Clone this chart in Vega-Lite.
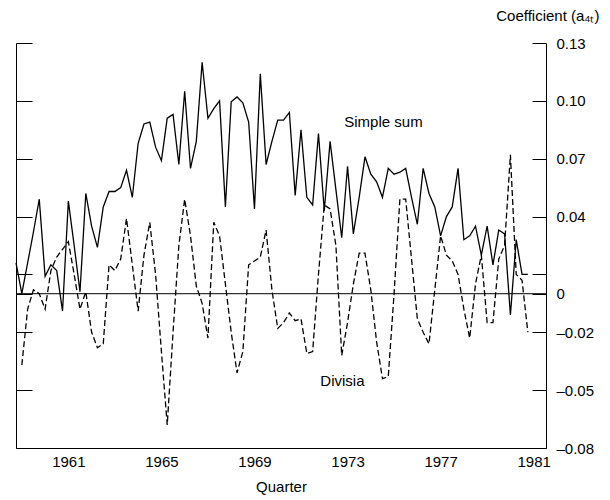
{
  "$schema": "https://vega.github.io/schema/vega-lite/v6.json",
  "width": 530,
  "height": 405,
  "autosize": "none",
  "padding": {"left": 16, "top": 43, "right": 64, "bottom": 52},
  "config": {
    "view": {"stroke": null},
    "font": "Liberation Sans",
    "axis": {"labelFont": "Liberation Sans", "titleFont": "Liberation Sans", "labelColor": "#000", "titleColor": "#000", "domainColor": "#000", "tickColor": "#000", "grid": false, "labelFontSize": 15, "titleFontSize": 15, "titleFontWeight": "normal"}
  },
  "datasets": {
    "series": [
      {"t":1958.75,"simple":0.016,"divisia":null},
      {"t":1959.0,"simple":0.000,"divisia":-0.037},
      {"t":1959.25,"simple":0.016,"divisia":-0.008},
      {"t":1959.5,"simple":0.032,"divisia":0.002},
      {"t":1959.75,"simple":0.049,"divisia":0.000},
      {"t":1960.0,"simple":0.009,"divisia":-0.008},
      {"t":1960.25,"simple":0.015,"divisia":0.012},
      {"t":1960.5,"simple":0.012,"divisia":0.019},
      {"t":1960.75,"simple":-0.009,"divisia":0.023},
      {"t":1961.0,"simple":0.048,"divisia":0.027},
      {"t":1961.25,"simple":0.025,"divisia":0.010},
      {"t":1961.5,"simple":0.001,"divisia":-0.008},
      {"t":1961.75,"simple":0.052,"divisia":0.001},
      {"t":1962.0,"simple":0.035,"divisia":-0.020},
      {"t":1962.25,"simple":0.024,"divisia":-0.028},
      {"t":1962.5,"simple":0.045,"divisia":-0.026},
      {"t":1962.75,"simple":0.053,"divisia":0.015},
      {"t":1963.0,"simple":0.053,"divisia":0.012},
      {"t":1963.25,"simple":0.055,"divisia":0.018},
      {"t":1963.5,"simple":0.064,"divisia":0.039},
      {"t":1963.75,"simple":0.050,"divisia":0.015},
      {"t":1964.0,"simple":0.078,"divisia":-0.009},
      {"t":1964.25,"simple":0.088,"divisia":0.020},
      {"t":1964.5,"simple":0.089,"divisia":0.037},
      {"t":1964.75,"simple":0.076,"divisia":0.010},
      {"t":1965.0,"simple":0.069,"divisia":-0.030},
      {"t":1965.25,"simple":0.091,"divisia":-0.068},
      {"t":1965.5,"simple":0.093,"divisia":-0.020},
      {"t":1965.75,"simple":0.067,"divisia":0.025},
      {"t":1966.0,"simple":0.105,"divisia":0.049},
      {"t":1966.25,"simple":0.065,"divisia":0.030},
      {"t":1966.5,"simple":0.079,"divisia":0.004},
      {"t":1966.75,"simple":0.120,"divisia":-0.005},
      {"t":1967.0,"simple":0.091,"divisia":-0.023},
      {"t":1967.25,"simple":0.096,"divisia":0.037},
      {"t":1967.5,"simple":0.100,"divisia":0.030},
      {"t":1967.75,"simple":0.045,"divisia":0.005},
      {"t":1968.0,"simple":0.0995,"divisia":-0.020},
      {"t":1968.25,"simple":0.102,"divisia":-0.041},
      {"t":1968.5,"simple":0.099,"divisia":-0.030},
      {"t":1968.75,"simple":0.089,"divisia":0.015},
      {"t":1969.0,"simple":0.044,"divisia":0.017},
      {"t":1969.25,"simple":0.114,"divisia":0.019},
      {"t":1969.5,"simple":0.067,"divisia":0.033},
      {"t":1969.75,"simple":0.079,"divisia":0.002},
      {"t":1970.0,"simple":0.090,"divisia":-0.018},
      {"t":1970.25,"simple":0.090,"divisia":-0.015},
      {"t":1970.5,"simple":0.094,"divisia":-0.010},
      {"t":1970.75,"simple":0.051,"divisia":-0.014},
      {"t":1971.0,"simple":0.085,"divisia":-0.013},
      {"t":1971.25,"simple":0.050,"divisia":-0.031},
      {"t":1971.5,"simple":0.046,"divisia":-0.030},
      {"t":1971.75,"simple":0.083,"divisia":0.010},
      {"t":1972.0,"simple":0.043,"divisia":0.046},
      {"t":1972.25,"simple":0.079,"divisia":0.044},
      {"t":1972.5,"simple":0.054,"divisia":0.025},
      {"t":1972.75,"simple":0.029,"divisia":-0.032},
      {"t":1973.0,"simple":0.066,"divisia":-0.015},
      {"t":1973.25,"simple":0.031,"divisia":0.005},
      {"t":1973.5,"simple":0.050,"divisia":0.021},
      {"t":1973.75,"simple":0.071,"divisia":0.021},
      {"t":1974.0,"simple":0.062,"divisia":0.002},
      {"t":1974.25,"simple":0.058,"divisia":-0.025},
      {"t":1974.5,"simple":0.050,"divisia":-0.044},
      {"t":1974.75,"simple":0.065,"divisia":-0.043},
      {"t":1975.0,"simple":0.062,"divisia":0.000},
      {"t":1975.25,"simple":0.063,"divisia":0.049},
      {"t":1975.5,"simple":0.065,"divisia":0.049},
      {"t":1975.75,"simple":0.050,"divisia":0.018},
      {"t":1976.0,"simple":0.036,"divisia":-0.013},
      {"t":1976.25,"simple":0.065,"divisia":-0.020},
      {"t":1976.5,"simple":0.052,"divisia":-0.026},
      {"t":1976.75,"simple":0.045,"divisia":0.002},
      {"t":1977.0,"simple":0.030,"divisia":0.030},
      {"t":1977.25,"simple":0.040,"divisia":0.020},
      {"t":1977.5,"simple":0.045,"divisia":0.017},
      {"t":1977.75,"simple":0.065,"divisia":0.010},
      {"t":1978.0,"simple":0.028,"divisia":-0.008},
      {"t":1978.25,"simple":0.030,"divisia":-0.023},
      {"t":1978.5,"simple":0.035,"divisia":0.005},
      {"t":1978.75,"simple":0.020,"divisia":0.020},
      {"t":1979.0,"simple":0.035,"divisia":-0.015},
      {"t":1979.25,"simple":0.015,"divisia":-0.015},
      {"t":1979.5,"simple":0.033,"divisia":0.018},
      {"t":1979.75,"simple":0.031,"divisia":0.025},
      {"t":1980.0,"simple":-0.011,"divisia":0.072},
      {"t":1980.25,"simple":0.028,"divisia":0.010},
      {"t":1980.5,"simple":0.010,"divisia":0.007},
      {"t":1980.75,"simple":0.010,"divisia":-0.020}
    ],
    "labels": [
      {"t":1972.86,"v":0.089,"label":"Simple sum"},
      {"t":1971.83,"v":-0.045,"label":"Divisia"}
    ]
  },
  "layer": [
    {
      "data": {"values": [{"z": 0}]},
      "mark": {"type": "rule", "color": "#000", "strokeWidth": 1},
      "encoding": {"y": {"field": "z", "type": "quantitative", "scale": {"domain": [-0.08, 0.13], "nice": false, "zero": false}, "axis": null}}
    },
    {
      "data": {"name": "series"},
      "mark": {"type": "line", "color": "#000", "strokeWidth": 1.3},
      "encoding": {
        "x": {"field": "t", "type": "quantitative",
          "scale": {"domain": [1958.75, 1981.53], "nice": false, "zero": false},
          "axis": {"orient": "bottom", "values": [1961, 1965, 1969, 1973, 1977, 1981], "format": "d", "ticks": false, "domain": true, "labelPadding": 6, "title": "Quarter", "titlePadding": 10, "labelFlush": false}},
        "y": {"field": "simple", "type": "quantitative",
          "scale": {"domain": [-0.08, 0.13], "nice": false, "zero": false},
          "axis": {"orient": "right", "values": [0.13, 0.10, 0.07, 0.04, 0.01, 0, -0.02, -0.05, -0.08],
            "labelExpr": "abs(datum.value - 0.01) < 0.001 ? '' : datum.value == 0 ? '0' : (datum.value < 0 ? '–' : '') + format(abs(datum.value), '.2f')",
            "tickSize": -14, "labelPadding": 24, "domain": true,
            "title": "Coefficient (a₄ₜ)", "titleAngle": 0, "titleAlign": "right", "titleBaseline": "middle", "titleX": 53, "titleY": -28}}
      }
    },
    {
      "data": {"name": "series"},
      "mark": {"type": "line", "color": "#000", "strokeWidth": 1.3, "strokeDash": [6, 3]},
      "encoding": {
        "x": {"field": "t", "type": "quantitative"},
        "y": {"field": "divisia", "type": "quantitative",
          "axis": {"orient": "left", "values": [0.13, 0.10, 0.07, 0.04, 0.01, 0, -0.02, -0.05, -0.08], "labels": false, "tickSize": -16, "domain": true, "title": null}}
      }
    },
    {
      "data": {"name": "labels"},
      "mark": {"type": "text", "align": "left", "baseline": "middle", "fontSize": 15, "font": "Liberation Sans", "color": "#000"},
      "encoding": {
        "x": {"field": "t", "type": "quantitative"},
        "y": {"field": "v", "type": "quantitative", "axis": null},
        "text": {"field": "label"}
      }
    }
  ],
  "resolve": {"axis": {"y": "independent"}}
}
